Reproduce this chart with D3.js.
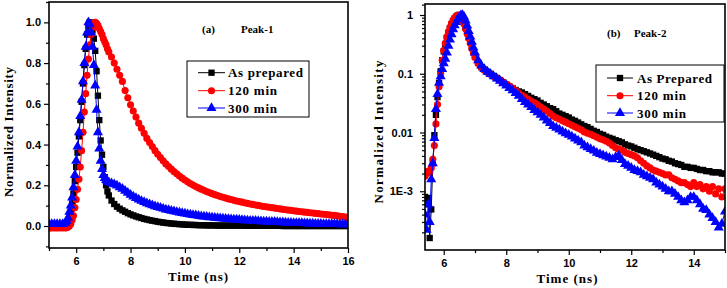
<!DOCTYPE html>
<html>
<head>
<meta charset="utf-8">
<script src="https://d3js.org/d3.v7.min.js"></script>
<style>
  body { margin: 0; background: #fff; }
  .tick text { font-family: "Liberation Sans", Arial, sans-serif; font-weight: bold; font-size: 11px; fill: #000; }
  .tick line { stroke: #000; stroke-width: 1.2; }
  .ttl { font-family: "Liberation Serif", "Times New Roman", serif; font-weight: bold; fill: #000; }
</style>
</head>
<body>
<svg width="727" height="288"></svg>
<script>
// ---------- panel (a): Peak-1, linear scale ----------
var timeA = [
  5.0,5.1,5.2,5.3,5.4,5.5,
  5.6,5.65,5.7,5.75,5.8,5.85,5.9,5.95,6.0,6.05,
  6.1,6.15,6.2,6.25,6.3,6.35,6.4,6.45,6.5,6.55,
  6.6,6.65,6.7,6.75,6.8,6.85,6.9,6.95,7.0,7.05,
  7.1,7.15,7.2,
  7.3,7.4,7.5,7.6,7.7,7.8,7.9,8.0,8.1,8.2,
  8.3,8.4,8.5,8.6,8.7,8.8,8.9,9.0,9.1,9.2,
  9.3,9.4,9.5,9.6,9.7,9.8,9.9,10.0,10.1,10.2,
  10.3,10.4,10.5,10.6,10.7,10.8,10.9,11.0,11.1,11.2,
  11.3,11.4,11.5,11.6,11.7,11.8,11.9,12.0,12.1,12.2,
  12.3,12.4,12.5,12.6,12.7,12.8,12.9,13.0,13.1,13.2,
  13.3,13.4,13.5,13.6,13.7,13.8,13.9,14.0,14.1,14.2,
  14.3,14.4,14.5,14.6,14.7,14.8,14.9,15.0,15.1,15.2,
  15.3,15.4,15.5,15.6,15.7,15.8,15.9,16.0
];
var asPreparedA = [
  0,0,0,0,0,0,
  0.005,0.01,0.02,0.04,0.07,0.11,0.16,0.22,0.29,0.36,
  0.44,0.52,0.61,0.70,0.79,0.87,0.94,0.98,1.0,0.99,
  0.96,0.92,0.86,0.76,0.64,0.52,0.42,0.35,0.29,0.24,
  0.20,0.17,0.15,
  0.125,0.108,0.095,0.085,0.077,0.07,0.063,0.057,0.052,0.047,
  0.043,0.039,0.035,0.032,0.029,0.026,0.024,0.021,0.019,0.017,
  0.015,0.014,0.012,0.011,0.010,0.009,0.008,0.007,0.006,0.006,
  0.005,0.005,0.004,0.004,0.004,0.003,0.003,0.003,0.003,0.002,
  0.002,0.002,0.002,0.002,0.002,0.002,0.002,0.002,0.002,0.002,
  0.001,0.001,0.001,0.001,0.001,0.001,0.001,0.001,0.001,0.001,
  0.001,0.001,0.001,0,0,0,0,0,0,0,
  0,0,0,0,0,0,0,0,0,0,
  0,0,0,0,0,0,0,0
];
var min120A = [
  -0.01,-0.01,-0.01,-0.01,-0.01,-0.01,
  -0.01,-0.008,-0.005,0.0,0.01,0.03,0.05,0.09,0.13,0.18,
  0.23,0.29,0.37,0.46,0.56,0.65,0.74,0.82,0.89,0.94,
  0.975,0.995,1.0,0.995,0.985,0.97,0.955,0.94,0.92,0.905,
  0.89,0.87,0.855,
  0.83,0.80,0.77,0.74,0.71,0.665,0.63,0.595,0.565,0.535,
  0.505,0.48,0.455,0.43,0.41,0.39,0.37,0.352,0.336,0.32,
  0.305,0.292,0.279,0.267,0.256,0.245,0.235,0.226,0.217,0.209,
  0.201,0.194,0.187,0.181,0.175,0.169,0.164,0.159,0.154,0.15,
  0.145,0.141,0.137,0.133,0.13,0.126,0.123,0.12,0.117,0.114,
  0.111,0.108,0.106,0.103,0.101,0.098,0.096,0.094,0.092,0.09,
  0.088,0.086,0.084,0.082,0.08,0.078,0.077,0.075,0.073,0.071,
  0.07,0.068,0.067,0.065,0.064,0.062,0.061,0.059,0.058,0.056,
  0.055,0.053,0.052,0.05,0.048,0.046,0.044,0.042
];
var min300A = [
  0.01,0.01,0.01,0.01,0.01,0.01,
  0.015,0.025,0.04,0.07,0.1,0.14,0.19,0.25,0.32,0.39,
  0.46,0.54,0.62,0.71,0.8,0.88,0.95,1.0,0.99,0.95,
  0.88,0.79,0.69,0.57,0.46,0.38,0.32,0.28,0.25,0.235,
  0.225,0.22,0.215,
  0.21,0.205,0.198,0.19,0.182,0.173,0.163,0.153,0.145,0.137,
  0.13,0.123,0.117,0.111,0.106,0.101,0.097,0.093,0.089,0.085,
  0.081,0.078,0.075,0.072,0.069,0.066,0.063,0.061,0.058,0.056,
  0.054,0.052,0.05,0.048,0.046,0.045,0.043,0.042,0.04,0.039,
  0.038,0.036,0.035,0.034,0.033,0.032,0.031,0.03,0.029,0.028,
  0.027,0.026,0.025,0.025,0.024,0.023,0.022,0.022,0.021,0.02,
  0.02,0.019,0.018,0.018,0.017,0.016,0.016,0.015,0.015,0.014,
  0.014,0.013,0.013,0.012,0.012,0.011,0.011,0.011,0.01,0.01,
  0.01,0.009,0.009,0.009,0.008,0.008,0.008,0.008
];

// ---------- panel (b): Peak-2, log scale ----------
var timeB = [
  5.4,5.45,5.5,5.55,5.6,5.65,5.7,5.75,5.8,5.85,
  5.9,5.95,6.0,6.05,6.1,6.15,6.2,6.25,6.3,6.35,
  6.4,6.45,6.5,6.55,6.6,6.65,6.7,6.75,6.8,6.85,
  6.9,6.95,7.0,
  7.1,7.2,7.3,7.4,7.5,7.6,7.7,7.8,7.9,8.0,
  8.1,8.2,8.3,8.4,8.5,8.6,8.7,8.8,8.9,9.0,
  9.1,9.2,9.3,9.4,9.5,9.6,9.7,9.8,9.9,10.0,
  10.1,10.2,10.3,10.4,10.5,10.6,10.7,10.8,10.9,11.0,
  11.1,11.2,11.3,11.4,11.5,11.6,11.7,11.8,11.9,12.0,
  12.1,12.2,12.3,12.4,12.5,12.6,12.7,12.8,12.9,13.0,
  13.1,13.2,13.3,13.4,13.5,13.6,13.7,13.8,13.9,14.0,
  14.1,14.2,14.3,14.4,14.5,14.6,14.7,14.8,14.9,15.0
];
var asPreparedB = [
  8e-4,6e-4,7.7e-4,1.6e-4,4.9e-4,0.003,0.009,0.02,0.04,0.07,
  0.11,0.17,0.24,0.32,0.41,0.5,0.6,0.7,0.79,0.87,
  0.93,0.98,1.0,0.97,0.88,0.75,0.62,0.5,0.42,0.35,
  0.29,0.24,0.2,
  0.155,0.13,0.118,0.108,0.1,0.092,0.085,0.078,0.072,0.066,
  0.061,0.057,0.053,0.05,0.048,0.045,0.042,0.039,0.037,0.035,
  0.032,0.030,0.028,0.026,0.025,0.023,0.021,0.020,0.019,0.018,
  0.0166,0.0158,0.0148,0.0138,0.0129,0.0123,0.0115,0.0107,0.0102,0.0095,
  0.0091,0.0085,0.0081,0.0078,0.0074,0.0071,0.0068,0.0063,0.006,0.0058,
  0.0055,0.0052,0.005,0.0048,0.0046,0.0044,0.0042,0.004,0.0038,0.0036,
  0.0035,0.0033,0.0032,0.003,0.0029,0.0028,0.0026,0.0026,0.0025,0.0025,
  0.0024,0.0023,0.0023,0.0022,0.0022,0.0021,0.0021,0.0021,0.002,0.002
];
var min120B = [
  0.0018,0.002,0.0022,0.0021,0.0025,0.0035,0.006,0.014,0.03,0.06,
  0.1,0.17,0.25,0.33,0.42,0.52,0.62,0.72,0.82,0.9,
  0.96,1.0,0.98,0.92,0.82,0.7,0.58,0.48,0.4,0.33,
  0.27,0.225,0.19,
  0.15,0.128,0.115,0.105,0.097,0.09,0.084,0.078,0.072,0.067,
  0.062,0.057,0.052,0.047,0.043,0.040,0.037,0.034,0.032,0.030,
  0.027,0.025,0.023,0.021,0.019,0.0178,0.0168,0.0158,0.015,0.0141,
  0.0133,0.0125,0.0118,0.0111,0.0102,0.0097,0.0093,0.0088,0.0083,0.0078,
  0.0075,0.0071,0.0066,0.006,0.0055,0.0052,0.005,0.0046,0.0044,0.0042,
  0.004,0.0037,0.0033,0.003,0.0027,0.0025,0.0023,0.0022,0.0021,0.002,
  0.0019,0.0019,0.0017,0.0016,0.0015,0.0014,0.0014,0.0013,0.0012,0.0014,
  0.0012,0.0013,0.0011,0.0012,0.001,0.0012,0.0009,0.0011,0.0008,0.0011
];
var min300B = [
  4e-4,2.2e-4,6e-4,3e-4,0.0016,0.003,0.008,0.025,0.045,0.07,
  0.09,0.12,0.15,0.18,0.23,0.3,0.38,0.47,0.57,0.67,
  0.76,0.85,0.93,0.99,1.0,0.93,0.8,0.66,0.53,0.43,
  0.35,0.28,0.23,
  0.17,0.138,0.12,0.108,0.099,0.09,0.083,0.076,0.069,0.063,
  0.057,0.052,0.047,0.042,0.037,0.033,0.030,0.027,0.024,0.022,
  0.020,0.018,0.016,0.0145,0.0128,0.012,0.0112,0.0104,0.0097,0.0091,
  0.0085,0.0079,0.0073,0.0068,0.006,0.0056,0.0052,0.0049,0.0045,0.0043,
  0.0041,0.0039,0.0037,0.0035,0.0038,0.004,0.0034,0.0029,0.0027,0.0025,
  0.0023,0.0022,0.0021,0.0019,0.0018,0.0017,0.0016,0.0014,0.0013,0.0012,
  0.0011,0.001,0.001,0.0009,0.0008,0.0007,0.00065,0.0007,0.0008,0.0008,
  0.0007,0.0006,0.0005,0.00048,0.0004,0.00035,0.0003,0.00024,0.00028,0.00045
];

// ticks and labels
var xTicksA = [6,8,10,12,14,16];
var xMinorA = [5,7,9,11,13,15];
var yTicksA = [0,0.2,0.4,0.6,0.8,1.0];
var yMinorA = [-0.1,0.1,0.3,0.5,0.7,0.9,1.1];
var xTicksB = [6,8,10,12,14];
var xMinorB = [7,9,11,13,15];
var yTicksB = [1,0.1,0.01,0.001];
var yLabelsB = ["1","0.1","0.01","1E-3"];
var legendA = ["As prepared","120 min","300 min"];
var legendB = ["As Prepared","120 min","300 min"];

var colors = ["#000000","#ff0000","#0000ff"];
var shapes = [d3.symbolSquare, d3.symbolCircle, d3.symbolTriangle];
var sizes = [40, 40, 44];

var svg = d3.select("svg");

function drawPanel(p) {
  var g = svg.append("g");
  var x = p.x, y = p.y;
  var x0 = x.range()[0], x1 = x.range()[1];
  var yb = y.range()[0], yt = y.range()[1];

  g.append("clipPath").attr("id", p.id)
    .append("rect").attr("x", x0).attr("y", yt).attr("width", x1 - x0).attr("height", yb - yt);

  var plot = g.append("g").attr("clip-path", "url(#" + p.id + ")");
  p.series.forEach(function(vals, i) {
    var pts = p.time.map(function(t, j) { return [t, vals[j]]; });
    plot.append("path")
      .datum(pts)
      .attr("fill", "none")
      .attr("stroke", colors[i])
      .attr("stroke-width", 1)
      .attr("d", d3.line().x(function(d) { return x(d[0]); }).y(function(d) { return y(d[1]); }));
    plot.selectAll(".m" + i)
      .data(pts)
      .enter().append("path")
      .attr("class", "m" + i)
      .attr("transform", function(d) { return "translate(" + x(d[0]) + "," + y(d[1]) + ")"; })
      .attr("d", d3.symbol().type(shapes[i]).size(sizes[i]))
      .attr("fill", colors[i]);
  });

  // axes: major + minor ticks
  var bx = g.append("g").attr("transform", "translate(0," + yb + ")")
    .call(d3.axisBottom(x).tickValues(p.xTicks).tickSize(5).tickPadding(4).tickFormat(d3.format("d")));
  var bxm = g.append("g").attr("transform", "translate(0," + yb + ")")
    .call(d3.axisBottom(x).tickValues(p.xMinor).tickSize(3).tickFormat(""));
  var ly = g.append("g").attr("transform", "translate(" + x0 + ",0)")
    .call(d3.axisLeft(y).tickValues(p.yTicks).tickSize(5).tickPadding(p.yPad).tickFormat(p.yFormat));
  var lym = g.append("g").attr("transform", "translate(" + x0 + ",0)")
    .call(d3.axisLeft(y).tickValues(p.yMinor).tickSize(3).tickFormat(""));
  [bx, bxm, ly, lym].forEach(function(a) { a.select(".domain").remove(); });

  g.append("rect")
    .attr("x", x0).attr("y", yt).attr("width", x1 - x0).attr("height", yb - yt)
    .attr("fill", "none").attr("stroke", "#000").attr("stroke-width", 1.6);

  // axis titles
  g.append("text").attr("class", "ttl")
    .attr("transform", "translate(" + p.yTitle[0] + "," + p.yTitle[1] + ") rotate(-90)")
    .attr("text-anchor", "middle").attr("font-size", 13)
    .attr("textLength", p.yTitle[2]).attr("lengthAdjust", "spacing")
    .text("Normalized Intensity");
  g.append("text").attr("class", "ttl")
    .attr("x", p.xTitle[0]).attr("y", p.xTitle[1])
    .attr("text-anchor", "middle").attr("font-size", 13)
    .attr("textLength", p.xTitle[2]).attr("lengthAdjust", "spacing")
    .text("Time (ns)");

  // annotation
  g.append("text").attr("class", "ttl").attr("font-size", 11)
    .attr("x", p.note[0]).attr("y", p.note[1]).text(p.note[2]);
  g.append("text").attr("class", "ttl").attr("font-size", 11)
    .attr("x", p.note[3]).attr("y", p.note[1]).text(p.note[4]);

  // legend
  var L = p.legend;
  g.append("rect").attr("x", L.x).attr("y", L.y).attr("width", L.w).attr("height", L.h)
    .attr("fill", "#fff").attr("stroke", "#000").attr("stroke-width", 1);
  L.labels.forEach(function(lab, i) {
    var ly0 = L.rows[i];
    g.append("line").attr("x1", L.lx0).attr("x2", L.lx1).attr("y1", ly0).attr("y2", ly0)
      .attr("stroke", colors[i]).attr("stroke-width", 1);
    g.append("path")
      .attr("transform", "translate(" + ((L.lx0 + L.lx1) / 2) + "," + ly0 + ")")
      .attr("d", d3.symbol().type(shapes[i]).size(sizes[i]))
      .attr("fill", colors[i]);
    g.append("text").attr("class", "ttl").attr("font-size", 13)
      .attr("x", L.tx).attr("y", ly0 + 4.5)
      .attr("textLength", L.tw[i]).attr("lengthAdjust", "spacing")
      .text(lab);
  });
}

drawPanel({
  id: "clipA",
  time: timeA,
  series: [asPreparedA, min120A, min300A],
  x: d3.scaleLinear().domain([5, 16]).range([49, 348]),
  y: d3.scaleLinear().domain([-0.108, 1.1]).range([248, 2]),
  xTicks: xTicksA, xMinor: xMinorA,
  yTicks: yTicksA, yMinor: yMinorA,
  yFormat: d3.format(".1f"), yPad: 3,
  yTitle: [13, 132, 130],
  xTitle: [198, 281, 60],
  note: [202, 33, "(a)", 241, "Peak-1"],
  legend: { x: 187, y: 61, w: 122, h: 56, rows: [72.7, 90.7, 108], lx0: 198, lx1: 225, tx: 228,
            labels: legendA, tw: [75, 49, 49] }
});

drawPanel({
  id: "clipB",
  time: timeB,
  series: [asPreparedB, min120B, min300B],
  x: d3.scaleLinear().domain([5.4, 15]).range([425, 725]),
  y: d3.scaleLog().domain([1e-4, 1.54]).range([250, 4]),
  xTicks: xTicksB, xMinor: xMinorB,
  yTicks: yTicksB,
  yMinor: [2e-4,3e-4,4e-4,5e-4,6e-4,7e-4,8e-4,9e-4,
           2e-3,3e-3,4e-3,5e-3,6e-3,7e-3,8e-3,9e-3,
           0.02,0.03,0.04,0.05,0.06,0.07,0.08,0.09,
           0.2,0.3,0.4,0.5,0.6,0.7,0.8,0.9,1.5],
  yFormat: function(d) { return yLabelsB[yTicksB.indexOf(d)]; }, yPad: 7,
  yTitle: [383, 132, 143],
  xTitle: [567, 283, 61],
  note: [607, 37, "(b)", 634, "Peak-2"],
  legend: { x: 596, y: 65, w: 128, h: 57, rows: [78, 95.7, 113], lx0: 607, lx1: 633, tx: 637,
            labels: legendB, tw: [75, 49, 49] }
});
</script>
</body>
</html>
